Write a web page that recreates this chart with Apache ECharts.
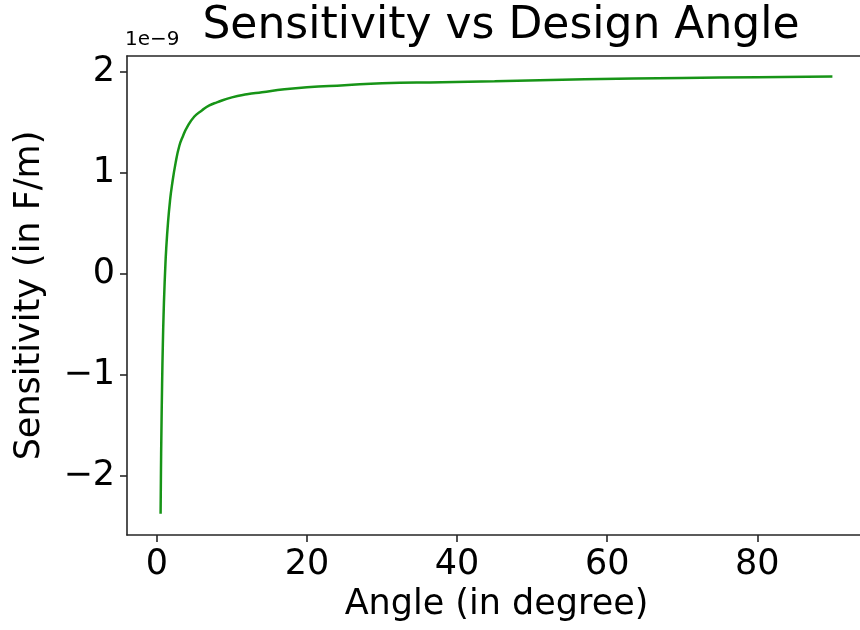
<!DOCTYPE html>
<html>
<head>
<meta charset="utf-8">
<script src="https://cdn.jsdelivr.net/npm/echarts@6/dist/echarts.min.js"></script>
<style>
  html, body { margin: 0; padding: 0; background: #fff; overflow: hidden; }
  #chart { width: 860px; height: 630px; }
</style>
</head>
<body>
<div id="chart"></div>
<script>
// angle (degree) -> sensitivity (F/m)
var angles = [0.5, 0.55, 0.6, 0.7, 0.8, 0.9, 1.0, 1.1, 1.25, 1.5, 1.75, 2.0, 2.5, 3.0, 3.5, 4.0,
  5.0, 6.0, 7.0, 8.0, 10, 12, 14, 17, 20, 25, 30, 38, 45, 57, 70, 80, 90];
var sensitivity = [-2.38e-9, -1.95e-9, -1.62e-9, -1.10e-9, -0.70e-9, -0.40e-9, -0.17e-9, 0.02e-9,
  0.25e-9, 0.52e-9, 0.72e-9, 0.87e-9, 1.10e-9, 1.27e-9, 1.37e-9, 1.45e-9,
  1.56e-9, 1.62e-9, 1.67e-9, 1.70e-9, 1.75e-9, 1.78e-9, 1.80e-9, 1.83e-9, 1.85e-9, 1.87e-9,
  1.89e-9, 1.90e-9, 1.91e-9, 1.93e-9, 1.943e-9, 1.95e-9, 1.957e-9];
var xTicks = [0, 20, 40, 60, 80];
var yTicks = [-2e-9, -1e-9, 0, 1e-9, 2e-9];

var font = "DejaVu Sans";
var spine = { show: true, onZero: false, lineStyle: { color: "#262626", width: 1.6 } };

var points = angles.map(function (a, i) { return [a, sensitivity[i]]; });

var myChart = echarts.init(document.getElementById("chart"));
var option = {
  backgroundColor: "#fff",
  animation: false,
  title: {
    text: "Sensitivity vs Design Angle",
    left: 496,
    textAlign: "center",
    top: 0,
    textStyle: { fontFamily: font, fontSize: 44, fontWeight: "normal", color: "#000" }
  },
  graphic: [{
    type: "text",
    left: 125,
    top: 30,
    style: { text: "1e\u22129", fontFamily: font, fontSize: 20, fill: "#000" }
  }],
  // plot box runs past the right edge of the picture (cropped, as in the reference)
  grid: { left: 127, top: 56, width: 739, height: 479, outerBoundsMode: "none" },
  xAxis: [{
    type: "value",
    min: -3.975,
    max: 94.475,
    name: "Angle (in degree)",
    nameLocation: "middle",
    nameGap: 52,
    nameTextStyle: { fontFamily: font, fontSize: 35, color: "#000" },
    axisLine: spine,
    splitLine: { show: false },
    axisTick: { show: true, length: 7, customValues: xTicks, lineStyle: { color: "#262626", width: 1.6 } },
    axisLabel: { customValues: xTicks, fontFamily: font, fontSize: 35, color: "#000", margin: 12 }
  }, {
    type: "value",
    position: "top",
    min: -3.975,
    max: 94.475,
    axisLine: spine,
    splitLine: { show: false },
    axisTick: { show: false },
    axisLabel: { show: false }
  }],
  yAxis: {
    type: "value",
    min: -2.59e-9,
    max: 2.16e-9,
    name: "Sensitivity (in F/m)",
    nameLocation: "middle",
    nameRotate: 90,
    nameGap: 80,
    nameTextStyle: { fontFamily: font, fontSize: 35, color: "#000" },
    axisLine: spine,
    splitLine: { show: false },
    axisTick: { show: true, length: 7, customValues: yTicks, lineStyle: { color: "#262626", width: 1.6 } },
    axisLabel: {
      customValues: yTicks,
      fontFamily: font,
      fontSize: 35,
      color: "#000",
      margin: 12,
      formatter: function (v) {
        var n = Math.round(v / 1e-9);
        return n < 0 ? "\u2212" + (-n) : "" + n;
      }
    }
  },
  series: [{
    type: "line",
    data: points,
    showSymbol: false,
    smooth: 0.5,
    lineStyle: { color: "#179417", width: 2.5 },
    itemStyle: { color: "#179417" }
  }]
};
myChart.setOption(option);
</script>
</body>
</html>
